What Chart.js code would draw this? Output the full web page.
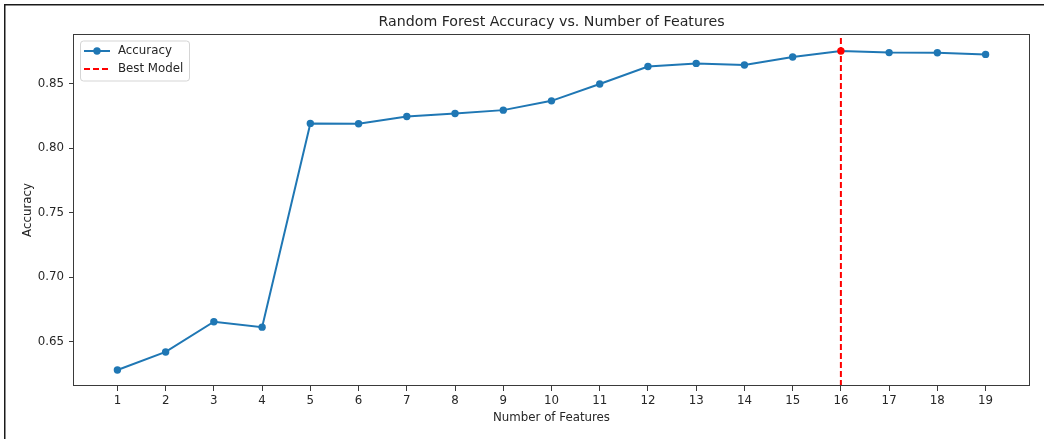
<!DOCTYPE html>
<html>
<head>
<meta charset="utf-8">
<script src="https://cdn.jsdelivr.net/npm/chart.js@4.4.1/dist/chart.umd.min.js"></script>
<style>
  html, body { margin: 0; padding: 0; background: #fff; overflow: hidden; }
  #wrap { position: absolute; left: 0; top: 0; width: 1044px; height: 439px; }
</style>
</head>
<body>
<div id="wrap"><canvas id="c" width="1044" height="439"></canvas></div>
<script>
// ---- data ----
const featureCounts = [1,2,3,4,5,6,7,8,9,10,11,12,13,14,15,16,17,18,19];
const accuracy = [0.628,0.642,0.6654,0.6612,0.8191,0.8188,0.8245,0.8268,0.8294,0.8366,0.8496,0.8632,0.8656,0.8644,0.8706,0.8752,0.8740,0.8739,0.8726];
const bestFeatures = 16;
const xTickValues = [1,2,3,4,5,6,7,8,9,10,11,12,13,14,15,16,17,18,19];
const yTickValues = [0.65,0.70,0.75,0.80,0.85];
const xLimits = [0.1, 19.9];
const yLimits = [0.6156, 0.8884];
const titleText = 'Random Forest Accuracy vs. Number of Features';
const xLabel = 'Number of Features';
const yLabel = 'Accuracy';
const seriesLabels = ['Accuracy', 'Best Model'];

const BLUE = '#1f77b4';
const RED = '#ff0000';
const FONT = '"DejaVu Sans", sans-serif';
const TEXT = '#262626';
const FS = 11.8;

const points = featureCounts.map((f, i) => ({x: f, y: accuracy[i]}));
const pointColors = featureCounts.map(f => f === bestFeatures ? RED : BLUE);

const framePlugin = {
  id: 'frame',
  beforeDraw(chart) {
    const ctx = chart.ctx;
    ctx.save();
    ctx.fillStyle = '#fff';
    ctx.fillRect(0, 0, chart.width, chart.height);
    ctx.fillStyle = '#1a1a1a';
    ctx.fillRect(4, 4, chart.width - 4, 1.5);
    ctx.fillRect(4, 4, 1.5, chart.height - 4);
    ctx.restore();
  },
  afterDatasetsDraw(chart) {
    const ctx = chart.ctx;
    const a = chart.chartArea;
    ctx.save();
    ctx.strokeStyle = '#3a3a3a';
    ctx.lineWidth = 1;
    ctx.strokeRect(Math.round(a.left) - 0.5, Math.round(a.top) + 0.5, Math.round(a.right - a.left) + 1, Math.round(a.bottom - a.top) - 1);
    // title
    ctx.fillStyle = TEXT;
    ctx.font = '14.2px ' + FONT;
    ctx.textAlign = 'center';
    ctx.textBaseline = 'middle';
    ctx.fillText(titleText, (a.left + a.right) / 2, 22);
    // legend
    const lx = a.left + 6, ly = a.top + 6.5, lw = 109, lh = 40;
    ctx.fillStyle = 'rgba(255,255,255,0.8)';
    ctx.strokeStyle = '#d5d5d5';
    ctx.lineWidth = 1;
    ctx.beginPath();
    ctx.roundRect(lx + 0.5, ly + 0.5, lw, lh, 3);
    ctx.fill();
    ctx.stroke();
    const x0 = lx + 4, x1 = lx + 30, tx = lx + 38;
    const y1 = ly + 10.5, y2 = ly + 28.5;
    ctx.strokeStyle = BLUE; ctx.lineWidth = 2;
    ctx.beginPath(); ctx.moveTo(x0, y1); ctx.lineTo(x1, y1); ctx.stroke();
    ctx.fillStyle = BLUE;
    ctx.beginPath(); ctx.arc((x0 + x1) / 2, y1, 3.7, 0, Math.PI * 2); ctx.fill();
    ctx.strokeStyle = RED; ctx.setLineDash([6, 3]);
    ctx.beginPath(); ctx.moveTo(x0, y2); ctx.lineTo(x1, y2); ctx.stroke();
    ctx.setLineDash([]);
    ctx.fillStyle = TEXT;
    ctx.font = FS + 'px ' + FONT;
    ctx.textAlign = 'left';
    ctx.fillText(seriesLabels[0], tx, y1);
    ctx.fillText(seriesLabels[1], tx, y2);
    ctx.restore();
  }
};

new Chart(document.getElementById('c'), {
  type: 'line',
  data: {
    datasets: [
      {
        label: seriesLabels[0],
        data: points,
        borderColor: BLUE,
        backgroundColor: BLUE,
        borderWidth: 2,
        pointRadius: 3.7,
        pointHoverRadius: 3.7,
        pointBackgroundColor: pointColors,
        pointBorderColor: pointColors,
        pointBorderWidth: 0,
        tension: 0,
        order: 2
      },
      {
        label: seriesLabels[1],
        data: [{x: bestFeatures, y: yLimits[0]}, {x: bestFeatures, y: yLimits[1]}],
        borderColor: RED,
        borderWidth: 2,
        borderDash: [6, 3],
        pointRadius: 0,
        order: 1
      }
    ]
  },
  options: {
    responsive: false,
    devicePixelRatio: 1,
    animation: false,
    events: [],
    layout: { padding: { left: 0, top: 34, right: 15, bottom: 0 } },
    plugins: { legend: { display: false }, title: { display: false }, tooltip: { enabled: false } },
    scales: {
      x: {
        type: 'linear',
        min: xLimits[0], max: xLimits[1],
        afterBuildTicks: s => { s.ticks = xTickValues.map(v => ({value: v})); },
        afterFit: s => { s.height = 53; },
        grid: { drawOnChartArea: false, drawTicks: true, tickLength: 5, color: '#3a3a3a', tickWidth: 1 },
        border: { display: false },
        ticks: { color: TEXT, font: { family: FONT, size: FS }, padding: 2.5, maxRotation: 0, autoSkip: false, callback: v => String(v) },
        title: { display: true, text: xLabel, color: TEXT, font: { family: FONT, size: FS }, padding: { top: 0, bottom: 13.5 } }
      },
      y: {
        type: 'linear',
        min: yLimits[0], max: yLimits[1],
        afterBuildTicks: s => { s.ticks = yTickValues.map(v => ({value: v})); },
        afterFit: s => { s.width = 74; },
        grid: { drawOnChartArea: false, drawTicks: true, tickLength: 5, color: '#3a3a3a', tickWidth: 1 },
        border: { display: false },
        ticks: { color: TEXT, font: { family: FONT, size: FS }, padding: 5, callback: v => Number(v).toFixed(2) },
        title: { display: true, text: yLabel, color: TEXT, font: { family: FONT, size: FS }, padding: { top: 20.5, bottom: 0 } }
      }
    }
  },
  plugins: [framePlugin]
});
</script>
</body>
</html>
